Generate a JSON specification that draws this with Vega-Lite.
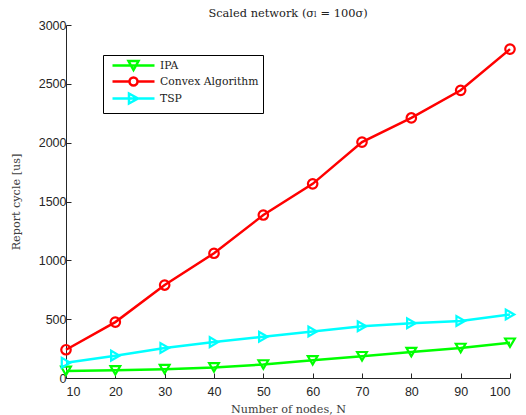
{
  "$schema": "https://vega.github.io/schema/vega-lite/v6.json",
  "width": 444,
  "height": 353,
  "autosize": "none",
  "padding": {"left": 66, "top": 25, "right": 16, "bottom": 37},
  "background": "white",
  "title": {
    "text": "Scaled network (σₗ = 100σ)",
    "font": "DejaVu Serif",
    "fontSize": 11.4,
    "fontWeight": "normal",
    "color": "#222222",
    "offset": 0
  },
  "config": {
    "view": {"stroke": null},
    "axis": {
      "domainColor": "#262626",
      "tickColor": "#262626",
      "labelColor": "#262626",
      "labelFont": "Liberation Sans",
      "labelFontSize": 12.5,
      "titleFont": "DejaVu Serif",
      "titleFontSize": 11.2,
      "titleFontWeight": "normal",
      "titleColor": "#404040",
      "grid": false,
      "tickSize": -5,
      "domainWidth": 1,
      "format": "d"
    }
  },
  "data": {
    "values": [
      {"N": 10, "series": "IPA", "v": 60},
      {"N": 20, "series": "IPA", "v": 65},
      {"N": 30, "series": "IPA", "v": 75},
      {"N": 40, "series": "IPA", "v": 90},
      {"N": 50, "series": "IPA", "v": 115},
      {"N": 60, "series": "IPA", "v": 150},
      {"N": 70, "series": "IPA", "v": 185},
      {"N": 80, "series": "IPA", "v": 220},
      {"N": 90, "series": "IPA", "v": 255},
      {"N": 100, "series": "IPA", "v": 300},
      {"N": 10, "series": "Convex Algorithm", "v": 240},
      {"N": 20, "series": "Convex Algorithm", "v": 475},
      {"N": 30, "series": "Convex Algorithm", "v": 790},
      {"N": 40, "series": "Convex Algorithm", "v": 1060},
      {"N": 50, "series": "Convex Algorithm", "v": 1385},
      {"N": 60, "series": "Convex Algorithm", "v": 1650},
      {"N": 70, "series": "Convex Algorithm", "v": 2005},
      {"N": 80, "series": "Convex Algorithm", "v": 2210},
      {"N": 90, "series": "Convex Algorithm", "v": 2445},
      {"N": 100, "series": "Convex Algorithm", "v": 2795},
      {"N": 10, "series": "TSP", "v": 130},
      {"N": 20, "series": "TSP", "v": 190},
      {"N": 30, "series": "TSP", "v": 255},
      {"N": 40, "series": "TSP", "v": 305},
      {"N": 50, "series": "TSP", "v": 350},
      {"N": 60, "series": "TSP", "v": 395},
      {"N": 70, "series": "TSP", "v": 440},
      {"N": 80, "series": "TSP", "v": 465},
      {"N": 90, "series": "TSP", "v": 485},
      {"N": 100, "series": "TSP", "v": 540}
    ]
  },
  "encoding": {
    "x": {
      "field": "N",
      "type": "quantitative",
      "scale": {"domain": [10, 100], "nice": false},
      "axis": {"values": [10, 20, 30, 40, 50, 60, 70, 80, 90, 100], "title": "Number of nodes, N", "labelPadding": 12, "titlePadding": 6}
    },
    "y": {
      "field": "v",
      "type": "quantitative",
      "scale": {"domain": [0, 3000], "nice": false},
      "axis": {"values": [0, 500, 1000, 1500, 2000, 2500, 3000], "title": "Report cycle [us]", "labelPadding": 5, "titlePadding": 17}
    },
    "color": {
      "field": "series",
      "type": "nominal",
      "scale": {"domain": ["IPA", "Convex Algorithm", "TSP"], "range": ["#00FF00", "#FF0000", "#00FFFF"]},
      "legend": null
    }
  },
  "layer": [
    {
      "mark": {"type": "line", "strokeWidth": 2.5},
      "encoding": {
        "color": {
          "field": "series",
          "type": "nominal",
          "scale": {"domain": ["IPA", "Convex Algorithm", "TSP"], "range": ["#00FF00", "#FF0000", "#00FFFF"]},
          "legend": {
            "title": null,
            "orient": "none",
            "legendX": 37,
            "legendY": 30,
            "strokeColor": "#000000",
            "fillColor": "#ffffff",
            "padding": 4,
            "labelFont": "DejaVu Serif",
            "labelFontSize": 10.8,
            "labelColor": "#222222",
            "labelOffset": 40,
            "rowPadding": -3,
            "symbolSize": 100,
            "symbolStrokeWidth": 2.5,
            "symbolFillColor": "transparent",
            "encode": {
              "symbols": {
                "update": {
                  "shape": {"signal": "datum.value === 'IPA' ? 'M-0.2,0H8.2M3,-0.9L5,-0.9L4,0.9Z' : datum.value === 'TSP' ? 'M-0.2,0H8.2M3.1,-1L4.9,0L3.1,1Z' : 'M-0.2,0H3.2M4.8,0H8.2M3.2,0A0.8,0.8 0 1,0 4.8,0A0.8,0.8 0 1,0 3.2,0'"}
                }
              }
            }
          }
        }
      }
    },
    {
      "transform": [{"filter": "datum.series === 'IPA'"}],
      "mark": {"type": "point", "shape": "triangle-down", "filled": false, "strokeWidth": 2.2, "opacity": 1, "size": 95}
    },
    {
      "transform": [{"filter": "datum.series === 'Convex Algorithm'"}],
      "mark": {"type": "point", "shape": "circle", "filled": false, "strokeWidth": 2.2, "opacity": 1, "size": 90}
    },
    {
      "transform": [{"filter": "datum.series === 'TSP'"}],
      "mark": {"type": "point", "shape": "triangle-right", "filled": false, "strokeWidth": 2.2, "opacity": 1, "size": 95}
    }
  ]
}
